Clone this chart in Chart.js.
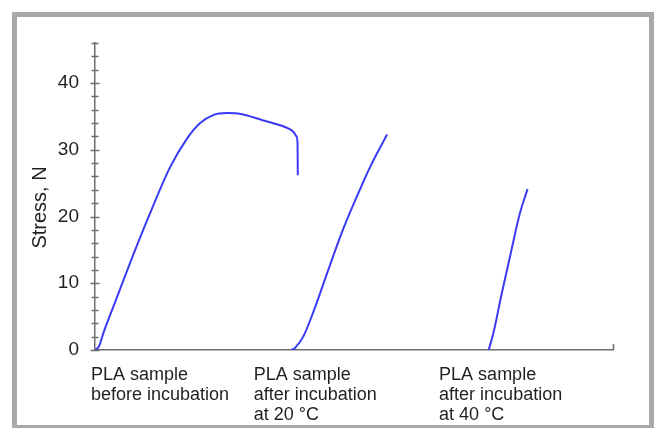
<!DOCTYPE html>
<html>
<head>
<meta charset="utf-8">
<script src="https://cdn.jsdelivr.net/npm/chart.js@4"></script>
<style>
  html, body { margin: 0; padding: 0; background: #fff; }
  #wrap { position: relative; width: 654px; height: 428px; overflow: hidden; }
  #frame { position: absolute; left: 12px; top: 12px; width: 632px; height: 408px;
           border: 5px solid #a7a9ac; border-bottom-width: 3px; }
  canvas { position: absolute; left: 0; top: 0; }
</style>
</head>
<body>
<div id="wrap">
  <div id="frame"></div>
  <canvas id="stressChart" width="654" height="428"></canvas>
</div>
<script>
// sample labels under the x axis and where they start (strain units, 0..100)
const xLabels = [
  ['PLA sample', 'before incubation'],
  ['PLA sample', 'after incubation', 'at 20 °C'],
  ['PLA sample', 'after incubation', 'at 40 °C']
];
const xLabelAt = [0, 31.4, 67.2];

// curves (x: relative elongation, y: stress in N)
const beforeX = [0, 0.8, 1.6, 3.9, 7.4, 10.9, 14.5, 17.7, 20.3, 22.8, 25.4, 27.5, 32.5, 37.6, 38.3, 38.9, 39.1, 39.15];
const beforeY = [0, 0.6, 2.5, 7.2, 14.3, 21.0, 27.4, 31.6, 34.0, 35.2, 35.5, 35.45, 34.4, 33.1, 32.7, 32.0, 31.0, 26.2];

const at20X = [37.9, 38.6, 40.2, 42.1, 45.4, 47.9, 51.8, 53.1, 54.4, 55.5, 56.4];
const at20Y = [0, 0.3, 2.0, 5.6, 12.8, 18.1, 25.2, 27.4, 29.4, 31.0, 32.3];

const at40X = [76.0, 76.9, 78.5, 80.4, 82.0, 83.5];
const at40Y = [0, 2.5, 8.4, 15, 20.4, 24.1];

const yMax = 46;
const yTitle = 'Stress, N';

const axisColor = '#6d6e71';
const textColor = '#231f20';
const lineColor = 'rgb(58, 58, 245)';

function toPoints(xs, ys) {
  return xs.map((x, i) => ({ x: x, y: ys[i] }));
}

function curve(label, xs, ys) {
  return {
    label: label,
    data: toPoints(xs, ys),
    borderColor: lineColor,
    borderWidth: 2,
    pointRadius: 0,
    fill: false,
    cubicInterpolationMode: 'monotone'
  };
}

// ticks crossing the y axis, end tick on the x axis, rotated y title
const axisDecor = {
  id: 'axisDecor',
  afterDraw(chart) {
    const { ctx, scales: { x, y } } = chart;
    ctx.save();
    ctx.strokeStyle = axisColor;
    ctx.lineWidth = 1.5;
    ctx.beginPath();
    y.ticks.forEach(t => {
      const py = Math.round(y.getPixelForValue(t.value)) + 0.5;
      const half = t.value % 10 === 0 ? 4.5 : 3.5;
      ctx.moveTo(x.left - half, py);
      ctx.lineTo(x.left + half, py);
    });
    const px = Math.round(x.getPixelForValue(x.max)) + 0.5;
    ctx.moveTo(px, y.bottom);
    ctx.lineTo(px, y.bottom - 6);
    ctx.stroke();

    ctx.fillStyle = textColor;
    ctx.font = '20px "Liberation Sans", Arial, sans-serif';
    ctx.textAlign = 'center';
    ctx.textBaseline = 'middle';
    ctx.translate(40, (y.top + y.bottom) / 2 + 11);
    ctx.rotate(-Math.PI / 2);
    ctx.fillText(yTitle, 0, 0);
    ctx.restore();
  }
};

const labelFont = { family: '"Liberation Sans", Arial, sans-serif', size: 18, lineHeight: '20px' };

const config = {
  type: 'line',
  data: {
    datasets: [
      curve('before incubation', beforeX, beforeY),
      curve('after incubation at 20 °C', at20X, at20Y),
      curve('after incubation at 40 °C', at40X, at40Y)
    ]
  },
  options: {
    responsive: false,
    animation: false,
    layout: { padding: { left: 35, right: 41, top: 43, bottom: 0 } },
    plugins: {
      legend: { display: false },
      tooltip: { enabled: false }
    },
    scales: {
      x: {
        type: 'linear',
        min: 0,
        max: 100,
        grid: { display: false, drawTicks: false },
        border: { display: true, color: axisColor, width: 1.5 },
        afterBuildTicks: s => { s.ticks = xLabelAt.map(v => ({ value: v })); },
        afterFit: s => { s.height = 78; },
        ticks: {
          autoSkip: false,
          maxRotation: 0,
          minRotation: 0,
          align: 'start',
          labelOffset: -4,
          padding: 15,
          color: textColor,
          font: labelFont,
          callback: (v, i) => xLabels[i]
        }
      },
      y: {
        type: 'linear',
        min: 0,
        max: yMax,
        grid: { display: false, drawTicks: false },
        border: { display: true, color: axisColor, width: 1.5 },
        afterFit: s => { s.width = 60; },
        ticks: {
          stepSize: 2,
          autoSkip: false,
          padding: 16,
          color: textColor,
          font: { family: '"Liberation Sans", Arial, sans-serif', size: 19 },
          callback: v => (v % 10 === 0 ? v : '')
        }
      }
    }
  },
  plugins: [axisDecor]
};

const ctx = document.getElementById('stressChart').getContext('2d');
const stressChart = new Chart(ctx, config);
</script>
</body>
</html>
